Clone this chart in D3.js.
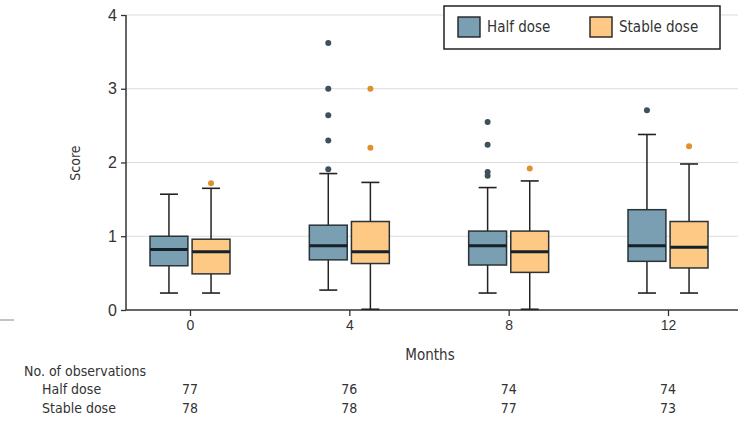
<!DOCTYPE html>
<html>
<head>
<meta charset="utf-8">
<script src="https://cdn.jsdelivr.net/npm/d3@7"></script>
<style>
  body { margin: 0; background: #fff; }
  svg { display: block; font-family: "Liberation Sans Narrow", "DejaVu Sans Condensed", "Open Sans", sans-serif; }
</style>
</head>
<body>
<svg id="chart" width="746" height="423"></svg>
<script>
// months on the x axis
const months = [0, 4, 8, 12];
const seriesNames = ["Half dose", "Stable dose"];

// box stats per month: [low whisker, Q1, median, Q3, high whisker]
const halfStats = [
  [0.23, 0.60, 0.82, 1.00, 1.57],
  [0.27, 0.68, 0.87, 1.15, 1.85],
  [0.23, 0.61, 0.87, 1.07, 1.66],
  [0.23, 0.66, 0.87, 1.36, 2.38]
];
const stableStats = [
  [0.23, 0.49, 0.79, 0.96, 1.65],
  [0.01, 0.63, 0.79, 1.20, 1.73],
  [0.01, 0.51, 0.79, 1.07, 1.75],
  [0.23, 0.57, 0.85, 1.20, 1.98]
];
const halfOutliers = [
  [],
  [3.62, 3.0, 2.64, 2.30, 1.91],
  [2.55, 2.24, 1.87, 1.82],
  [2.71]
];
const stableOutliers = [
  [1.72],
  [3.0, 2.20],
  [1.92],
  [2.22]
];
const halfN = [77, 76, 74, 74];
const stableN = [78, 78, 77, 73];
const yTicks = [0, 1, 2, 3, 4];

const fills = ["#7b9fb2", "#fdc985"];
const dotColors = ["#3e5059", "#e0902c"];

const svg = d3.select("#chart");

const y = d3.scaleLinear().domain([0, 4]).range([310, 15]);
const x = d3.scaleLinear().domain([0, 12]).range([190, 668]);
const sub = d3.scaleBand().domain(seriesNames).range([-40, 40]).paddingInner(0.1);
const bw = sub.bandwidth();

// gridlines
svg.append("g")
  .selectAll("line")
  .data(yTicks.filter(d => d > 0))
  .join("line")
  .attr("x1", 126).attr("x2", 738)
  .attr("y1", d => y(d)).attr("y2", d => y(d))
  .attr("stroke", "#dcdcdc")
  .attr("stroke-width", 1.2);

// y axis
const yAxis = svg.append("g")
  .attr("transform", "translate(126,0)")
  .call(d3.axisLeft(y).tickValues(yTicks).tickFormat(d3.format("d")).tickSize(5).tickPadding(4));
yAxis.select(".domain").attr("stroke", "#333").attr("stroke-width", 1.5).attr("d", "M0,15V310");
yAxis.selectAll(".tick line").attr("stroke", "#333").attr("stroke-width", 1.3);
yAxis.selectAll(".tick text").attr("font-size", 16).attr("fill", "#333").attr("font-family", "inherit");

// x axis
const xAxis = svg.append("g")
  .attr("transform", "translate(0,310)")
  .call(d3.axisBottom(x).tickValues(months).tickSize(6).tickPadding(4));
xAxis.select(".domain").attr("stroke", "#333").attr("stroke-width", 1.5).attr("d", "M126,0H738");
xAxis.selectAll(".tick line").attr("stroke", "#333").attr("stroke-width", 1.3);
xAxis.selectAll(".tick text").attr("font-size", 14).attr("fill", "#333").attr("font-family", "inherit");

// axis titles
svg.append("text")
  .attr("transform", "translate(80,163) rotate(-90)")
  .attr("text-anchor", "middle")
  .attr("font-size", 14)
  .attr("fill", "#333")
  .text("Score");

svg.append("text")
  .attr("x", 430).attr("y", 360)
  .attr("text-anchor", "middle")
  .attr("font-size", 15)
  .attr("fill", "#333")
  .text("Months");

// boxes
[halfStats, stableStats].forEach((stats, si) => {
  const g = svg.append("g");
  const cx = i => x(months[i]) + sub(seriesNames[si]) + bw / 2;
  const grp = g.selectAll("g").data(stats).join("g");
  // whisker vertical
  grp.append("line")
    .attr("x1", (d, i) => cx(i)).attr("x2", (d, i) => cx(i))
    .attr("y1", d => y(d[0])).attr("y2", d => y(d[4]))
    .attr("stroke", "#222").attr("stroke-width", 1.5);
  // caps
  [0, 4].forEach(k => {
    grp.append("line")
      .attr("x1", (d, i) => cx(i) - 9).attr("x2", (d, i) => cx(i) + 9)
      .attr("y1", d => y(d[k])).attr("y2", d => y(d[k]))
      .attr("stroke", "#222").attr("stroke-width", 1.6);
  });
  grp.append("rect")
    .attr("x", (d, i) => cx(i) - bw / 2)
    .attr("width", bw)
    .attr("y", d => y(d[3]))
    .attr("height", d => y(d[1]) - y(d[3]))
    .attr("fill", fills[si])
    .attr("stroke", "#2a3336")
    .attr("stroke-width", 1.5);
  grp.append("line")
    .attr("x1", (d, i) => cx(i) - bw / 2).attr("x2", (d, i) => cx(i) + bw / 2)
    .attr("y1", d => y(d[2])).attr("y2", d => y(d[2]))
    .attr("stroke", "#13222a").attr("stroke-width", 3);
});

// outliers
[halfOutliers, stableOutliers].forEach((outs, si) => {
  const pts = [];
  outs.forEach((arr, i) => arr.forEach(v => pts.push({ i, v })));
  svg.append("g")
    .selectAll("circle")
    .data(pts)
    .join("circle")
    .attr("cx", d => x(months[d.i]) + sub(seriesNames[si]) + bw / 2)
    .attr("cy", d => y(d.v))
    .attr("r", 3)
    .attr("fill", dotColors[si]);
});

// legend
const leg = svg.append("g");
leg.append("rect")
  .attr("x", 444).attr("y", 6).attr("width", 276).attr("height", 43)
  .attr("fill", "#fff").attr("stroke", "#222").attr("stroke-width", 1.5);
const legX = [458, 590];
seriesNames.forEach((name, i) => {
  leg.append("rect")
    .attr("x", legX[i]).attr("y", 17).attr("width", 22).attr("height", 20)
    .attr("fill", fills[i]).attr("stroke", "#222").attr("stroke-width", 1.4);
  leg.append("text")
    .attr("x", legX[i] + 29).attr("y", 32)
    .attr("font-size", 15)
    .attr("fill", "#333")
    .text(name);
});

// observations table
svg.append("text")
  .attr("x", 24).attr("y", 376)
  .attr("font-size", 14).attr("fill", "#333")
  .text("No. of observations");
[[halfN, 394], [stableN, 413]].forEach(([arr, yy], si) => {
  svg.append("text")
    .attr("x", 42).attr("y", yy)
    .attr("font-size", 14).attr("fill", "#333")
    .text(seriesNames[si]);
  svg.append("g")
    .selectAll("text")
    .data(arr)
    .join("text")
    .attr("x", (d, i) => x(months[i]))
    .attr("y", yy)
    .attr("text-anchor", "middle")
    .attr("font-size", 14).attr("fill", "#333")
    .text(d => d);
});

// small stray mark at left edge
svg.append("line")
  .attr("x1", 0).attr("x2", 14).attr("y1", 320).attr("y2", 320)
  .attr("stroke", "#888").attr("stroke-width", 1);
</script>
</body>
</html>
